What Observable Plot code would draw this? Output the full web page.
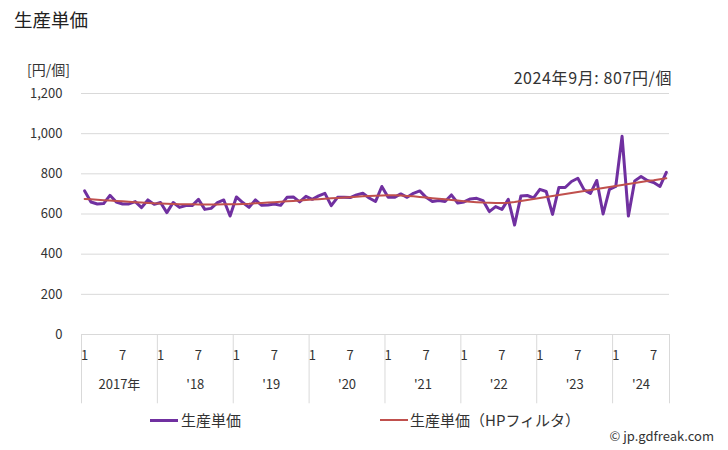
<!DOCTYPE html>
<html>
<head>
<meta charset="utf-8">
<script src="https://cdn.jsdelivr.net/npm/d3@7"></script>
<script src="https://cdn.jsdelivr.net/npm/@observablehq/plot@0.6"></script>
<style>
  body { margin: 0; background: #fff; font-family: "Noto Sans CJK JP", "Noto Sans", sans-serif; color: #333; }
  #wrap { position: relative; width: 728px; height: 450px; overflow: hidden; }
  .ov { position: absolute; white-space: nowrap; line-height: 1; }
  .leg { position: absolute; height: 3px; }
</style>
</head>
<body>
<div id="wrap">
  <div id="chart"></div>
  <div class="ov" style="left:14px; top:10px; font-size:18.5px; color:#222;">生産単価</div>
  <div class="ov" style="left:27px; top:62px; font-size:14px;">[円/個]</div>
  <div class="ov" style="right:56px; top:69px; font-size:16px; letter-spacing:0.6px;">2024年9月: 807円/個</div>
  <div class="leg" style="left:150px; top:419px; width:28px; background:#7030A0;"></div>
  <div class="ov" style="left:181px; top:412px; font-size:15px;">生産単価</div>
  <div class="leg" style="left:380px; top:419px; width:28px; height:2px; background:#C0504D;"></div>
  <div class="ov" style="left:410px; top:412px; font-size:15px;">生産単価（HPフィルタ）</div>
  <div class="ov" style="right:14px; top:429px; font-size:13px;">© jp.gdfreak.com</div>
</div>
<script>
// Monthly values Jan 2017 – Sep 2024 (円/個)
const values2017 = [715, 660, 650, 652, 693, 660, 650, 650, 662, 632, 670, 648];
const values2018 = [657, 607, 657, 633, 642, 642, 673, 623, 628, 657, 670, 590];
const values2019 = [685, 657, 633, 670, 643, 645, 650, 643, 683, 685, 660, 688];
const values2020 = [673, 690, 703, 642, 683, 683, 682, 695, 703, 680, 662, 737];
const values2021 = [683, 683, 700, 683, 703, 715, 683, 662, 667, 662, 695, 655];
const values2022 = [660, 675, 678, 667, 612, 637, 623, 673, 545, 690, 692, 680];
const values2023 = [723, 712, 598, 732, 732, 762, 778, 720, 703, 767, 600, 723];
const values2024 = [737, 987, 590, 765, 787, 767, 757, 737, 807];

// HP filter trend
const hp2017 = [675, 673, 671, 669, 667, 665, 663, 661, 659, 657, 655, 653];
const hp2018 = [652, 651, 650, 649, 648, 648, 647, 647, 647, 647, 648, 648];
const hp2019 = [649, 650, 651, 653, 655, 657, 659, 661, 663, 665, 667, 670];
const hp2020 = [672, 674, 676, 678, 680, 682, 684, 686, 688, 690, 691, 692];
const hp2021 = [693, 693, 692, 690, 688, 685, 682, 679, 676, 673, 670, 667];
const hp2022 = [664, 661, 659, 657, 656, 655, 655, 656, 660, 665, 670, 675];
const hp2023 = [680, 685, 690, 695, 700, 705, 710, 714, 719, 724, 729, 734];
const hp2024 = [739, 744, 749, 754, 759, 764, 768, 773, 778];

const yearLabels = ["2017年", "'18", "'19", "'20", "'21", "'22", "'23", "'24"];
const monthsInYear = [12, 12, 12, 12, 12, 12, 12, 9];
const monthTickLabels = ["1", "7"];
const yTicks = [0, 200, 400, 600, 800, 1000, 1200];

const values = [values2017, values2018, values2019, values2020, values2021, values2022, values2023, values2024].flat();
const hp = [hp2017, hp2018, hp2019, hp2020, hp2021, hp2022, hp2023, hp2024].flat();
const series = values.map((v, i) => ({i, v, h: hp[i]}));

// year band info
let start = 0;
const years = yearLabels.map((lab, k) => {
  const o = {label: lab, start, n: monthsInYear[k]};
  start += monthsInYear[k];
  return o;
});
const boundaries = years.map(y => y.start - 0.5).concat([start - 0.5]);
const monthTicks = [];
years.forEach(y => {
  monthTicks.push({i: y.start, t: monthTickLabels[0]});
  if (y.n > 6) monthTicks.push({i: y.start + 6, t: monthTickLabels[1]});
});
const yearCenters = years.map(y => ({i: y.start + (y.n - 1) / 2, t: y.label}));

const chart = Plot.plot({
  width: 728,
  height: 450,
  marginTop: 93,
  marginBottom: 116,
  marginLeft: 81,
  marginRight: 59,
  style: {fontFamily: '"Noto Sans CJK JP", "Noto Sans", sans-serif', fontSize: "13px", color: "#333", background: "transparent"},
  x: {type: "linear", domain: [-0.5, values.length - 0.5], axis: null},
  y: {domain: [0, 1200], axis: null},
  marks: [
    Plot.gridY(yTicks, {stroke: "#d9d9d9", strokeOpacity: 1}),
    Plot.axisY(yTicks, {tickSize: 0, tickPadding: 19, tickFormat: d3.format(","), fontSize: 13, fill: "#333"}),
    Plot.ruleX(boundaries, {x: d => d, y1: 0, y2: -345, stroke: "#d9d9d9"}),
    Plot.text(monthTicks, {x: "i", y: 0, dy: 21, text: "t", fontSize: 13, fill: "#333"}),
    Plot.text(yearCenters, {x: "i", y: 0, dy: 50, text: "t", fontSize: 13, fill: "#333"}),
    Plot.line(series, {x: "i", y: "v", stroke: "#7030A0", strokeWidth: 3}),
    Plot.line(series, {x: "i", y: "h", stroke: "#C0504D", strokeWidth: 2})
  ]
});
document.getElementById("chart").appendChild(chart);
</script>
</body>
</html>
